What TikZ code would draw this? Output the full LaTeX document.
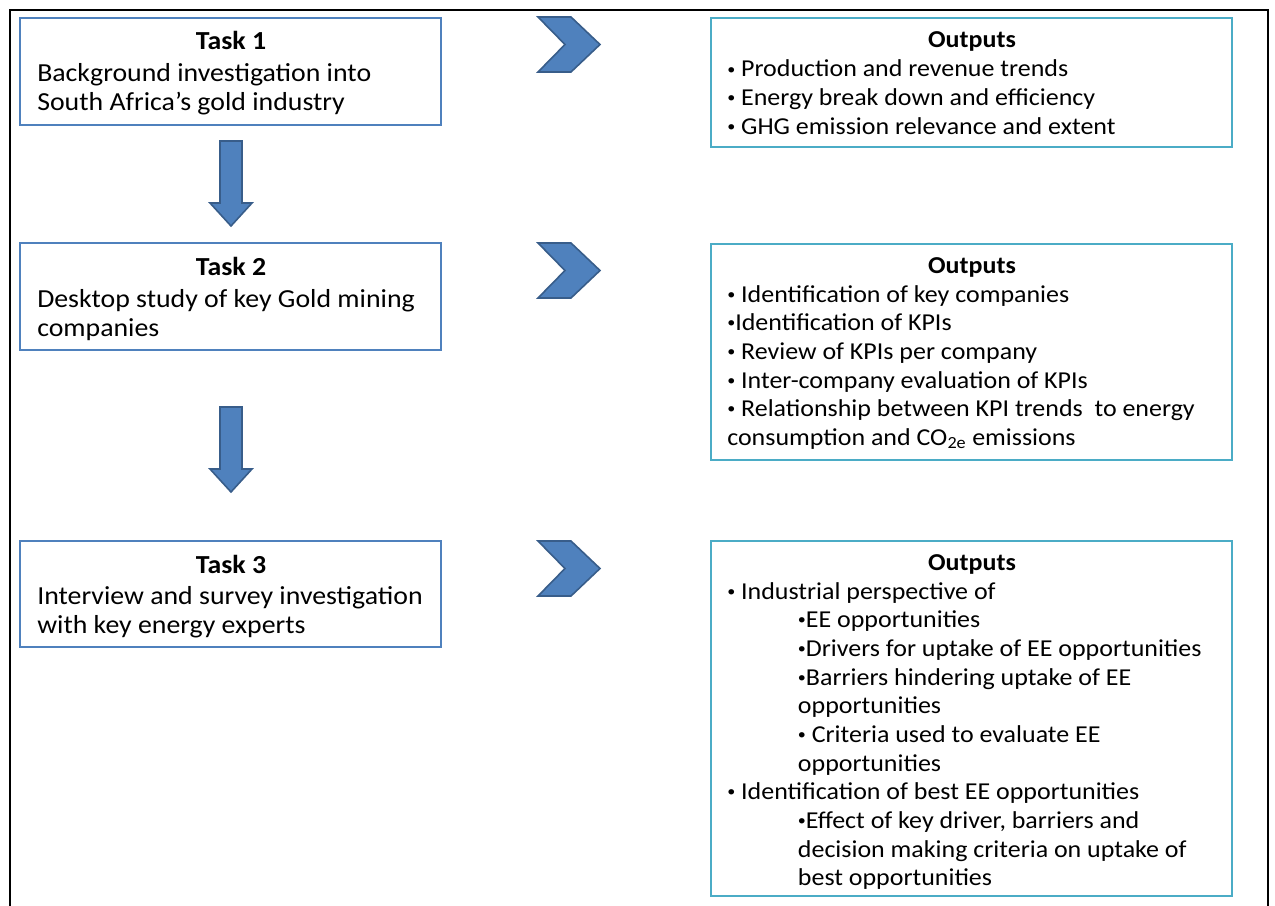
\documentclass[tikz,border=0pt]{standalone}
\usepackage{graphicx}
\usepackage{fontspec}
\setmainfont{Carlito}[FakeStretch=1.07]
\usetikzlibrary{fit}
\definecolor{taskblue}{RGB}{79,129,189}
\definecolor{outblue}{RGB}{75,172,198}
\definecolor{shapeline}{RGB}{56,93,138}
\tikzset{
  taskbox/.style={draw=taskblue, line width=2.2pt, inner sep=0pt, fill=white},
  outbox/.style={draw=outblue, line width=2.2pt, inner sep=0pt, fill=white},
  blockshape/.style={fill=taskblue, draw=shapeline, line width=1.2pt, line join=miter},
  title/.style={anchor=base, inner sep=0pt, font=\fontsize{19.5}{21.5}\selectfont\bfseries},
  otitle/.style={anchor=base, inner sep=0pt, font=\fontsize{18.2}{21.5}\selectfont\bfseries},
  body/.style={anchor=base west, inner sep=0pt, font=\fontsize{19.5}{21.5}\selectfont},
  frame/.style={line width=2.2pt, draw=black}
}
\newcommand{\ind}{\hspace*{53pt}}
\newcommand{\bul}{\raisebox{0.12em}{\scalebox{0.62}{•}}}
\newcommand{\outfont}{\fontsize{18.2}{21.5}\selectfont}
\begin{document}
\begin{tikzpicture}[x=0.75pt,y=-0.75pt]
\useasboundingbox (0,0) rectangle (1275,906);
\draw[frame] (10,906) -- (10,10) -- (1268,10) -- (1268,906);

% task boxes
\node[taskbox, fit={(20,18) (441,125)}] (t1) {};
\node[taskbox, fit={(20,243) (441,350)}] (t2) {};
\node[taskbox, fit={(20,541) (441,647)}] (t3) {};

\node[title] (t1h) at (231,50) {Task 1};
\node[body] (t1b) at (37,82) {\begin{minipage}[t]{400pt}\fontsize{19.5}{21.75}\selectfont
Background investigation into\\
South Africa’s gold industry\end{minipage}};

\node[title] (t2h) at (231,275) {Task 2};
\node[body] (t2b) at (37,307) {\begin{minipage}[t]{400pt}\fontsize{19.5}{21.75}\selectfont
Desktop study of key Gold mining\\
companies\end{minipage}};

\node[title] (t3h) at (231,573) {Task 3};
\node[body] (t3b) at (37,604) {\begin{minipage}[t]{400pt}\fontsize{19.5}{21.75}\selectfont
Interview and survey investigation\\
with key energy experts\end{minipage}};

% output boxes
\node[outbox, fit={(711,18) (1232,147)}] (o1) {};
\node[outbox, fit={(711,244) (1232,460)}] (o2) {};
\node[outbox, fit={(711,541) (1232,896)}] (o3) {};

\node[otitle] (o1h) at (972,48) {Outputs};
\node[body] (o1b) at (727,77) {\begin{minipage}[t]{500pt}\outfont
\bul{} Production and revenue trends\\
\bul{} Energy break down and efficiency\\
\bul{} GHG emission relevance and extent\end{minipage}};

\node[otitle] (o2h) at (972,273) {Outputs};
\node[body] (o2b) at (727,302) {\begin{minipage}[t]{500pt}\outfont
\bul{} Identification of key companies\\
\bul Identification of KPIs\\
\bul{} Review of KPIs per company\\
\bul{} Inter-company evaluation of KPIs\\
\bul{} Relationship between KPI trends\ \ to energy\\
consumption and CO\textsubscript{2e} emissions\end{minipage}};

\node[otitle] (o3h) at (972,570) {Outputs};
\node[body] (o3b) at (727,599) {\begin{minipage}[t]{500pt}\outfont
\bul{} Industrial perspective of\\
\ind\bul EE opportunities\\
\ind\bul Drivers for uptake of EE opportunities\\
\ind\bul Barriers hindering uptake of EE\\
\ind opportunities\\
\ind\bul{} Criteria used to evaluate EE\\
\ind opportunities\\
\bul{} Identification of best EE opportunities\\
\ind\bul Effect of key driver, barriers and\\
\ind decision making criteria on uptake of\\
\ind best opportunities\end{minipage}};

% chevrons
\foreach \yy in {17,243,541}{
  \draw[blockshape] (538,\yy) -- (571,\yy) -- (600,\yy+27.5) -- (571,\yy+55) -- (538,\yy+55) -- (565,\yy+27.5) -- cycle;
}
% down arrows
\foreach \yy in {141,407}{
  \draw[blockshape] (220,\yy) -- (242,\yy) -- (242,\yy+62) -- (252,\yy+62) -- (231,\yy+85) -- (210,\yy+62) -- (220,\yy+62) -- cycle;
}
\end{tikzpicture}
\end{document}
